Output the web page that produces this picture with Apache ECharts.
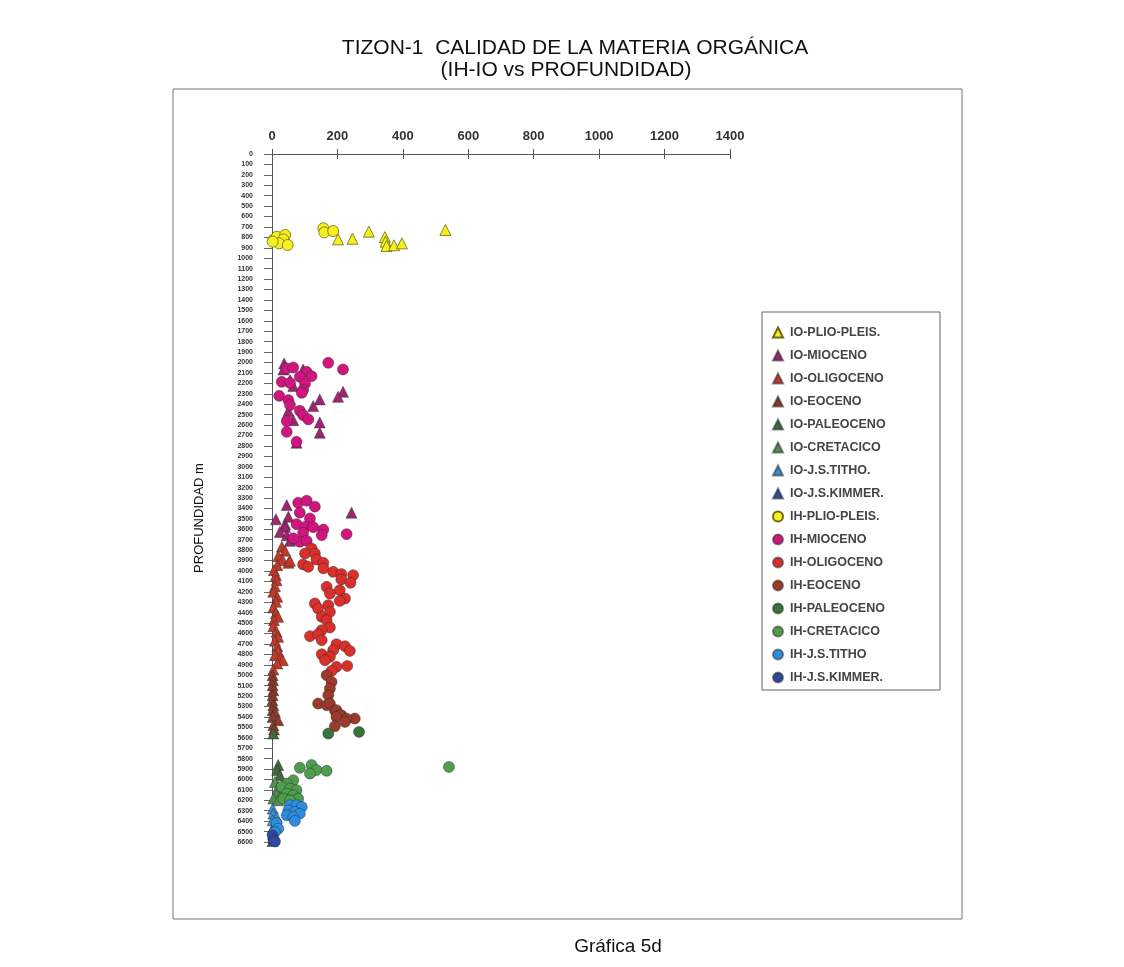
<!DOCTYPE html>
<html>
<head>
<meta charset="utf-8">
<script src="https://cdn.jsdelivr.net/npm/echarts@6/dist/echarts.min.js"></script>
<style>html,body{margin:0;padding:0;background:#fff}#c{width:1124px;height:967px}</style>
</head>
<body>
<div id="c"></div>
<script>
// ---- data: [IH or IO value, depth m] ----
const ioPlio = [[202,819],[246,813],[296,745],[345,797],[347,841],[350,883],[373,876],[397,857],[530,729]];
const ioMioceno = [[37,2009],[35,2067],[95,2067],[55,2169],[65,2226],[217,2281],[202,2329],[146,2354],[126,2418],[50,2466],[65,2553],[146,2575],[146,2674],[75,2770],
  [45,3368],[243,3441],[12,3505],[50,3480],[40,3551],[40,3577],[24,3625],[45,3657],[55,3711]];
const ioOligoceno = [[30,3768],[40,3806],[19,3858],[33,3896],[50,3922],[55,3902],[16,3944],[6,3992],[12,4040],[14,4088],[9,4146],[4,4200],[16,4248],[12,4296],[4,4350],[12,4408],[19,4440],[6,4472],[4,4530],[14,4584],[19,4632],[9,4670],[16,4722],[19,4770],[9,4808],[26,4833],[33,4856],[16,4888],[4,4946]];
const ioEoceno = [[2,5000],[3,5048],[2,5096],[4,5144],[2,5192],[1,5240],[4,5288],[2,5336],[9,5352],[2,5400],[19,5432],[4,5480],[6,5520]];
const ioPaleoceno = [[4,5560],[19,5862],[16,5910],[24,5960]];
const ioCretacico = [[9,6024],[19,6072],[30,6104],[14,6136],[4,6183],[19,6200]];
const ioTitho = [[2,6280],[4,6328],[14,6360],[2,6392],[9,6440]];
const ioKimmer = [[2,6472],[4,6520],[6,6568],[2,6590]];
const ihPlio = [[4,825],[15,794],[40,777],[35,819],[22,857],[48,873],[2,841],[157,713],[160,752],[187,739]];
const ihMioceno = [[172,2003],[217,2067],[45,2057],[65,2048],[106,2090],[121,2131],[85,2138],[30,2186],[55,2196],[101,2202],[95,2265],[91,2291],[22,2320],[50,2361],[55,2409],[85,2463],[95,2505],[111,2546],[45,2562],[45,2665],[75,2761],
  [80,3346],[106,3326],[131,3383],[85,3441],[116,3496],[75,3551],[101,3577],[126,3580],[157,3603],[152,3657],[228,3647],[95,3634],[85,3720],[106,3711],[65,3687]];
const ihOligoceno = [[121,3784],[101,3832],[131,3832],[136,3890],[157,3922],[95,3937],[111,3960],[157,3975],[187,4008],[212,4030],[248,4040],[212,4081],[240,4114],[167,4152],[207,4184],[177,4216],[223,4264],[207,4287],[131,4312],[172,4328],[141,4360],[177,4392],[152,4440],[167,4472],[177,4542],[152,4568],[116,4626],[141,4607],[152,4664],[197,4703],[223,4722],[238,4767],[187,4760],[152,4799],[177,4824],[162,4856],[197,4920],[230,4911],[182,4959]];
const ihEoceno = [[167,5000],[182,5064],[177,5128],[172,5192],[141,5272],[167,5288],[177,5272],[192,5336],[197,5336],[212,5384],[207,5384],[253,5416],[228,5416],[197,5400],[223,5448],[192,5490]];
const ihPaleoceno = [[172,5560],[266,5544]];
const ihCretacico = [[85,5888],[121,5862],[136,5910],[116,5943],[167,5917],[541,5880],
  [65,6008],[45,6040],[30,6072],[55,6088],[75,6104],[45,6136],[65,6152],[35,6184],[80,6184],[55,6200]];
const ihTitho = [[55,6248],[75,6248],[91,6264],[50,6296],[70,6312],[85,6328],[45,6344],[65,6360],[70,6398],[14,6418],[19,6472],[9,6504]];
const ihKimmer = [[2,6536],[4,6578],[9,6595]];

const xTicks = [0,200,400,600,800,1000,1200,1400];

const seriesDefs = [
  ['IO-PLIO-PLEIS.', ioPlio, 'triangle', '#f5ef1f'],
  ['IO-MIOCENO', ioMioceno, 'triangle', '#9c2670'],
  ['IO-OLIGOCENO', ioOligoceno, 'triangle', '#c0392b'],
  ['IO-EOCENO', ioEoceno, 'triangle', '#8a3b2e'],
  ['IO-PALEOCENO', ioPaleoceno, 'triangle', '#3d6b3a'],
  ['IO-CRETACICO', ioCretacico, 'triangle', '#4f8f4f'],
  ['IO-J.S.TITHO.', ioTitho, 'triangle', '#3a8fd0'],
  ['IO-J.S.KIMMER.', ioKimmer, 'triangle', '#304f9a'],
  ['IH-PLIO-PLEIS.', ihPlio, 'circle', '#f6f020'],
  ['IH-MIOCENO', ihMioceno, 'circle', '#d0157f'],
  ['IH-OLIGOCENO', ihOligoceno, 'circle', '#d9302c'],
  ['IH-EOCENO', ihEoceno, 'circle', '#9e3a2c'],
  ['IH-PALEOCENO', ihPaleoceno, 'circle', '#35743a'],
  ['IH-CRETACICO', ihCretacico, 'circle', '#4e9e4e'],
  ['IH-J.S.TITHO', ihTitho, 'circle', '#2c8ee0'],
  ['IH-J.S.KIMMER.', ihKimmer, 'circle', '#2d4aa0']
];

const FONT = 'Liberation Sans, Arial, sans-serif';
const chart = echarts.init(document.getElementById('c'), null, {renderer: 'canvas'});

const isYellow = c => c === '#f5ef1f' || c === '#f6f020';
const series = seriesDefs.map(([name, data, sym, color]) => ({
  name, type: 'scatter', data, symbol: sym,
  symbolSize: 11,
  xAxisIndex: 0, yAxisIndex: 0,
  itemStyle: {color, borderColor: isYellow(color) ? '#6e6a10' : 'rgba(40,40,40,0.55)', borderWidth: 0.8, opacity: 1},
  emphasis: {disabled: true}, animation: false
}));

chart.setOption({
  animation: false,
  backgroundColor: '#fff',
  title: [
    {text: 'TIZON-1  CALIDAD DE LA MATERIA ORGÁNICA', left: 570, top: 33, textAlign: 'center',
     textStyle: {fontFamily: FONT, fontSize: 21, fontWeight: 'normal', color: '#111'}},
    {text: '(IH-IO vs PROFUNDIDAD)', left: 561, top: 55, textAlign: 'center',
     textStyle: {fontFamily: FONT, fontSize: 21, fontWeight: 'normal', color: '#111'}},
    {text: 'Gráfica 5d', left: 613, top: 932, textAlign: 'center',
     textStyle: {fontFamily: FONT, fontSize: 19, fontWeight: 'normal', color: '#111'}}
  ],
  grid: {left: 272, right: 394, top: 154, bottom: 125},
  xAxis: [{
    type: 'value', position: 'top', min: 0, max: 1400, interval: 200,
    axisLine: {show: true, onZero: false, lineStyle: {color: '#555', width: 1}},
    axisTick: {show: true, length: 5, lineStyle: {color: '#555'}},
    axisLabel: {margin: 11, fontFamily: FONT, fontSize: 13, color: '#333', fontWeight: 'bold',
      formatter: v => xTicks.includes(v) ? String(v) : ''},
    splitLine: {show: false}
  }, {
    type: 'value', position: 'top', min: 0, max: 1400, interval: 200, gridIndex: 0,
    axisLine: {show: false}, axisLabel: {show: false},
    axisTick: {show: true, inside: true, length: 5, lineStyle: {color: '#555'}},
    splitLine: {show: false}
  }],
  yAxis: [{
    type: 'value', inverse: true, min: 0, max: 6600, interval: 100,
    axisLine: {show: true, onZero: false, lineStyle: {color: '#555', width: 1}},
    axisTick: {show: true, length: 8, lineStyle: {color: '#666'}},
    axisLabel: {margin: 19, fontFamily: FONT, fontSize: 7, color: '#333', fontWeight: 'bold',
      formatter: v => String(v)},
    splitLine: {show: false}
  }, {
    type: 'value', inverse: true, min: 0, max: 6600, interval: 100,
    axisLine: {show: false}, axisLabel: {show: false},
    axisTick: {show: true, inside: true, length: 5, lineStyle: {color: '#666'}},
    splitLine: {show: false}
  }],
  legend: {
    orient: 'vertical', left: 767, top: 321,
    itemWidth: 10, itemHeight: 10, itemGap: 10,
    textStyle: {fontFamily: FONT, fontSize: 12.5, color: '#444', fontWeight: 'bold', lineHeight: 13, padding: [0,0,0,2]},
    data: seriesDefs.map(d => ({name: d[0], icon: d[2]})),
    selectedMode: false
  },
  graphic: [
    {type: 'rect', shape: {x: 173, y: 89, width: 789, height: 830}, style: {fill: 'none', stroke: '#777', lineWidth: 1}, silent: true, z: -1},
    {type: 'rect', shape: {x: 762, y: 312, width: 178, height: 378}, style: {fill: 'none', stroke: '#666', lineWidth: 1}, silent: true},
    {type: 'text', x: 199, y: 518, rotation: Math.PI / 2,
     style: {text: 'PROFUNDIDAD m', fontFamily: FONT, fontSize: 13, fill: '#111', textAlign: 'center', textVerticalAlign: 'middle'}}
  ],
  series
});
</script>
</body>
</html>
